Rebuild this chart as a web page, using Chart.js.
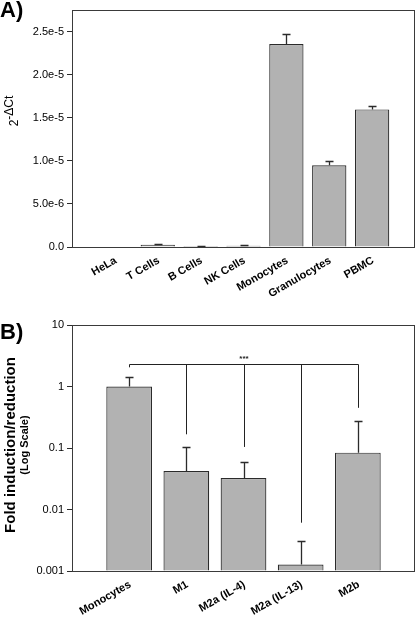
<!DOCTYPE html>
<html>
<head>
<meta charset="utf-8">
<script src="https://cdn.jsdelivr.net/npm/chart.js@4.4.1/dist/chart.umd.min.js"></script>
<style>
  html, body { margin: 0; padding: 0; background: #fff; }
  #wrapA { position: absolute; left: 0; top: 0; width: 416px; height: 310px; }
  #wrapB { position: absolute; left: 0; top: 310px; width: 416px; height: 311px; }
</style>
</head>
<body>
<div id="wrapA"><canvas id="chartA"></canvas></div>
<div id="wrapB"><canvas id="chartB"></canvas></div>
<script>
// panel A - expression by cell type
const cellTypes = ['HeLa', 'T Cells', 'B Cells', 'NK Cells', 'Monocytes', 'Granulocytes', 'PBMC'];
const cellValues = [0, 2.5e-7, 1.2e-7, 1.4e-7, 2.36e-5, 9.5e-6, 1.6e-5];
const cellErrTop = [0, 3.0e-7, 1.4e-7, 2.0e-7, 2.48e-5, 1.0e-5, 1.64e-5];
const ticksA = [0, 5e-6, 1e-5, 1.5e-5, 2e-5, 2.5e-5];

// panel B - macrophage subsets, log scale
const macroTypes = ['Monocytes', 'M1', 'M2a (IL-4)', 'M2a (IL-13)', 'M2b'];
const macroValues = [1, 0.0423, 0.0325, 0.00127, 0.084];
const macroErrTop = [1.43, 0.104, 0.059, 0.00307, 0.27];
const ticksB = [0.001, 0.01, 0.1, 1, 10];
// significance bracket
const bracketLevel = 2.36;
const bracketEnds = [2.05, 0.167, 0.104, 0.0061, 0.45];
const bracketText = '***';

const FONT = '"Liberation Sans", Arial, sans-serif';
const DARK = '#2b2b2b';

const frame = {
  id: 'frame',
  afterDraw(chart) {
    const a = chart.chartArea, ctx = chart.ctx;
    ctx.save();
    ctx.strokeStyle = '#3a3a3a';
    ctx.lineWidth = 1;
    ctx.strokeRect(Math.round(a.left) + 0.5, Math.round(a.top) + 0.5,
                   Math.round(a.right - a.left) - 1, Math.round(a.bottom - a.top));
    ctx.restore();
  }
};

function errorBars(tops) {
  return {
    id: 'errs',
    afterDatasetsDraw(chart) {
      const x = chart.scales.x, y = chart.scales.y, ctx = chart.ctx;
      const vals = chart.data.datasets[0].data;
      ctx.save();
      ctx.strokeStyle = DARK;
      ctx.lineWidth = 1.3;
      vals.forEach((p, i) => {
        if (!(tops[i] > p.y)) return;
        const px = Math.round(x.getPixelForValue(p.x)) + 0.5;
        const y0 = y.getPixelForValue(p.y);
        const y1 = Math.round(y.getPixelForValue(tops[i])) + 0.5;
        ctx.beginPath();
        ctx.moveTo(px, y0);
        ctx.lineTo(px, y1);
        ctx.moveTo(px - 4, y1);
        ctx.lineTo(px + 4, y1);
        ctx.stroke();
      });
      ctx.restore();
    }
  };
}

const labelA = {
  id: 'labelA',
  afterDraw(chart) {
    const ctx = chart.ctx;
    ctx.save();
    ctx.fillStyle = '#000';
    ctx.font = 'bold 22px ' + FONT;
    ctx.textBaseline = 'top';
    ctx.fillText('A)', 0, 0);
    // y title: 2^-ΔCt
    ctx.translate(0, 111);
    ctx.rotate(-Math.PI / 2);
    ctx.textBaseline = 'alphabetic';
    ctx.font = '12px ' + FONT;
    const w1 = ctx.measureText('2').width;
    const w2 = ctx.measureText('-\u0394Ct').width;
    const start = -(w1 + w2) / 2;
    ctx.fillText('2', start, 18);
    ctx.fillText('-\u0394Ct', start + w1, 13);
    ctx.restore();
  }
};

const labelB = {
  id: 'labelB',
  afterDraw(chart) {
    const ctx = chart.ctx;
    ctx.save();
    ctx.fillStyle = '#000';
    ctx.font = 'bold 22px ' + FONT;
    ctx.textBaseline = 'top';
    ctx.fillText('B)', 0, 12);
    const cy = (chart.chartArea.top + chart.chartArea.bottom) / 2 - 3;
    ctx.translate(0, cy);
    ctx.rotate(-Math.PI / 2);
    ctx.textAlign = 'center';
    ctx.textBaseline = 'alphabetic';
    ctx.font = 'bold 15px ' + FONT;
    ctx.fillText('Fold induction/reduction', 0, 15);
    ctx.font = 'bold 11px ' + FONT;
    ctx.fillText('(Log Scale)', 0, 28);
    ctx.restore();
  }
};

const bracket = {
  id: 'bracket',
  afterDatasetsDraw(chart) {
    const x = chart.scales.x, y = chart.scales.y, ctx = chart.ctx;
    const yb = Math.round(y.getPixelForValue(bracketLevel)) + 0.5;
    const xs = macroTypes.map((c, i) => Math.round(x.getPixelForValue(i)) + 0.5);
    ctx.save();
    ctx.strokeStyle = '#222';
    ctx.lineWidth = 1;
    ctx.beginPath();
    ctx.moveTo(xs[0], yb);
    ctx.lineTo(xs[xs.length - 1], yb);
    bracketEnds.forEach((v, i) => {
      ctx.moveTo(xs[i], yb);
      ctx.lineTo(xs[i], y.getPixelForValue(v));
    });
    ctx.stroke();
    ctx.fillStyle = '#222';
    ctx.font = 'bold 8px ' + FONT;
    ctx.textAlign = 'center';
    ctx.fillText(bracketText, (xs[0] + xs[xs.length - 1]) / 2, yb - 4);
    ctx.restore();
  }
};

function xAxis(names, height) {
  return {
    type: 'linear',
    offset: false,
    min: -1,
    max: names.length,
    grid: { display: false, drawTicks: false },
    border: { display: false },
    afterBuildTicks(scale) {
      scale.ticks = names.map((n, i) => ({ value: i }));
    },
    afterFit(scale) { scale.height = height; },
    ticks: {
      autoSkip: false,
      minRotation: 30,
      maxRotation: 30,
      padding: 7,
      labelOffset: 1,
      color: '#000',
      font: { family: FONT, size: 11, weight: 'bold' },
      callback: (v) => names[v] ?? ''
    }
  };
}

Chart.defaults.animation = false;

new Chart(document.getElementById('chartA'), {
  type: 'bar',
  data: {
    datasets: [{
      data: cellValues.map((v, i) => ({ x: i, y: v })),
      backgroundColor: '#b2b2b2',
      borderColor: DARK,
      borderWidth: 1.2,
      barPercentage: 0.8,
      categoryPercentage: 1
    }]
  },
  options: {
    responsive: true,
    maintainAspectRatio: false,
    layout: { padding: { top: 1, right: 1, left: 0, bottom: 0 } },
    plugins: { legend: { display: false }, tooltip: { enabled: false } },
    scales: {
      x: xAxis(cellTypes, 63),
      y: {
        min: 0,
        max: 2.76e-5,
        afterBuildTicks(scale) { scale.ticks = ticksA.map(v => ({ value: v })); },
        afterFit(scale) { scale.width = 72; },
        border: { display: false },
        grid: { drawOnChartArea: false, drawTicks: true, tickLength: 5, color: DARK },
        ticks: {
          color: '#000',
          padding: 3,
          font: { family: FONT, size: 11 },
          callback: (v) => v === 0 ? '0.0' : Number(v).toExponential(1)
        }
      }
    }
  },
  plugins: [frame, errorBars(cellErrTop), labelA]
});

new Chart(document.getElementById('chartB'), {
  type: 'bar',
  data: {
    datasets: [{
      data: macroValues.map((v, i) => ({ x: i, y: v })),
      backgroundColor: '#b2b2b2',
      borderColor: DARK,
      borderWidth: 1.2,
      barPercentage: 0.8,
      categoryPercentage: 1,
      base: 0.001
    }]
  },
  options: {
    responsive: true,
    maintainAspectRatio: false,
    layout: { padding: { top: 15, right: 1, left: 0, bottom: 0 } },
    plugins: { legend: { display: false }, tooltip: { enabled: false } },
    scales: {
      x: xAxis(macroTypes, 50),
      y: {
        type: 'logarithmic',
        min: 0.001,
        max: 10,
        afterBuildTicks(scale) { scale.ticks = ticksB.map(v => ({ value: v })); },
        afterFit(scale) { scale.width = 72; },
        border: { display: false },
        grid: { drawOnChartArea: false, drawTicks: true, tickLength: 5, color: DARK },
        ticks: {
          color: '#000',
          padding: 3,
          font: { family: FONT, size: 11 },
          callback: (v) => String(v)
        }
      }
    }
  },
  plugins: [frame, errorBars(macroErrTop), bracket, labelB]
});
</script>
</body>
</html>
